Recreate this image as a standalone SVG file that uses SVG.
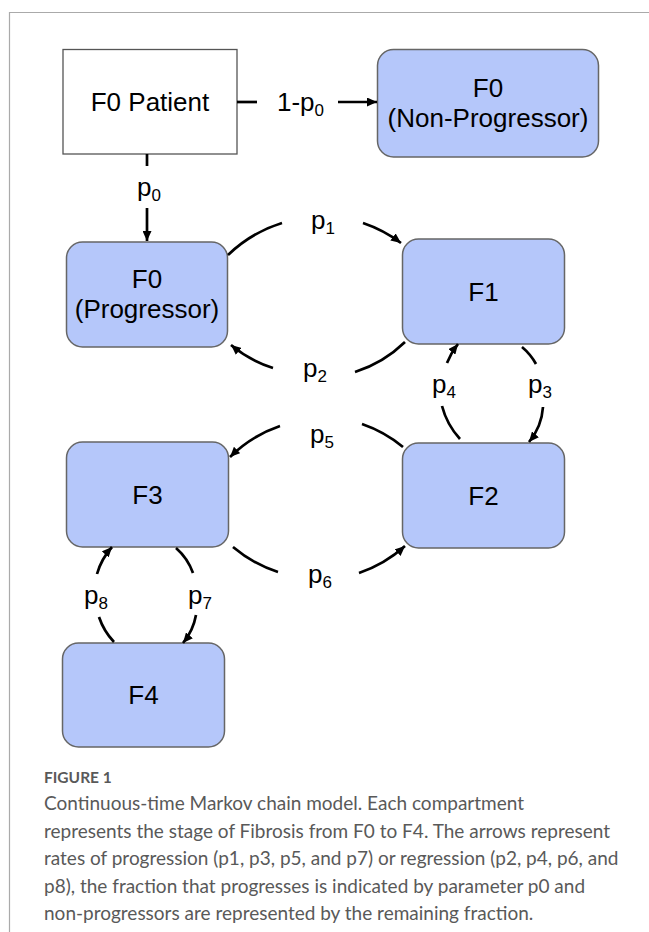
<svg xmlns="http://www.w3.org/2000/svg" width="649" height="932" viewBox="0 0 649 932">
<style>
.frame{fill:none;stroke:#aaaaaa;stroke-width:1.2}
.node{fill:#b5c7fa;stroke:#666666;stroke-width:1.5}
.plain{fill:#ffffff;stroke:#555555;stroke-width:1.3}
.t{font-family:"Liberation Sans",Arial,sans-serif;font-size:26px;fill:#000;text-anchor:middle}
.lbl{font-family:"Liberation Sans",Arial,sans-serif;font-size:26px;fill:#000}
.sub{font-size:17px}
.c{fill:none;stroke:#000;stroke-width:2.7}
.cap{font-family:Lato,"Open Sans",sans-serif;font-size:19px;fill:#595959}
.fig{font-family:Lato,"Open Sans",sans-serif;font-size:15.5px;font-weight:bold;fill:#595959}
</style>
<defs>
<marker id="ah" markerUnits="userSpaceOnUse" markerWidth="11" markerHeight="9" refX="10" refY="4.5" orient="auto">
<path d="M0,0 L10,4.5 L0,9 z" fill="#000"/>
</marker>
</defs>
<path class="frame" d="M9.5,932 V12.5 H649"/>
<g id="f0patient">
<rect class="plain" x="63" y="49.5" width="174" height="104.5"/>
<text class="t" x="150" y="111">F0 Patient</text>
</g>
<g id="f0nonprog">
<rect class="node" x="377.5" y="49.5" width="221" height="107.5" rx="16"/>
<text class="t" x="488" y="97">F0</text>
<text class="t" x="488" y="127">(Non-Progressor)</text>
</g>
<g id="f0prog">
<rect class="node" x="66.5" y="242" width="161" height="105" rx="16"/>
<text class="t" x="147" y="288">F0</text>
<text class="t" x="147" y="318">(Progressor)</text>
</g>
<g id="f1">
<rect class="node" x="402.5" y="239" width="162" height="105" rx="16"/>
<text class="t" x="483.5" y="301">F1</text>
</g>
<g id="f2">
<rect class="node" x="402.5" y="443" width="162" height="105" rx="16"/>
<text class="t" x="483.5" y="505">F2</text>
</g>
<g id="f3">
<rect class="node" x="66.5" y="442" width="162" height="105" rx="16"/>
<text class="t" x="147.5" y="504">F3</text>
</g>
<g id="f4">
<rect class="node" x="62.5" y="643" width="162" height="104" rx="16"/>
<text class="t" x="143.5" y="704">F4</text>
</g>
<g id="connectors">
<path class="c" d="M237,102 H257"/>
<path class="c" d="M338,102 H377" marker-end="url(#ah)"/>
<path class="c" d="M147,154 V166"/>
<path class="c" d="M147,208 V241" marker-end="url(#ah)"/>
<path class="c" d="M228,255 A136,136 0 0 1 282,223"/>
<path class="c" d="M363,223 A136,136 0 0 1 401,243" marker-end="url(#ah)"/>
<path class="c" d="M405,342 A127,127 0 0 1 355,372"/>
<path class="c" d="M273,368 A127,127 0 0 1 231,345" marker-end="url(#ah)"/>
<path class="c" d="M403,447 A131,131 0 0 0 362,424"/>
<path class="c" d="M280,426 A131,131 0 0 0 230,457" marker-end="url(#ah)"/>
<path class="c" d="M233,547 A133,133 0 0 0 278,572"/>
<path class="c" d="M359,573 A133,133 0 0 0 405,546" marker-end="url(#ah)"/>
<path class="c" d="M522,347 A61,61 0 0 1 536,364"/>
<path class="c" d="M543,407 A61,61 0 0 1 529,442" marker-end="url(#ah)"/>
<path class="c" d="M460,439 A78,78 0 0 1 442,406"/>
<path class="c" d="M447,363 A78,78 0 0 1 458,344" marker-end="url(#ah)"/>
<path class="c" d="M176,548 A60,60 0 0 1 193,573"/>
<path class="c" d="M196,615 A60,60 0 0 1 183,643" marker-end="url(#ah)"/>
<path class="c" d="M114,642 A68,68 0 0 1 99,617"/>
<path class="c" d="M97,574 A68,68 0 0 1 112,547" marker-end="url(#ah)"/>
</g>
<g id="labels">
<text class="lbl" x="277" y="111">1-p<tspan class="sub" dy="5">0</tspan></text>
<text class="lbl" x="137" y="196">p<tspan class="sub" dy="5">0</tspan></text>
<text class="lbl" x="311" y="229">p<tspan class="sub" dy="5">1</tspan></text>
<text class="lbl" x="303" y="377">p<tspan class="sub" dy="5">2</tspan></text>
<text class="lbl" x="528" y="393">p<tspan class="sub" dy="5">3</tspan></text>
<text class="lbl" x="432" y="393">p<tspan class="sub" dy="5">4</tspan></text>
<text class="lbl" x="310" y="443">p<tspan class="sub" dy="5">5</tspan></text>
<text class="lbl" x="308" y="583">p<tspan class="sub" dy="5">6</tspan></text>
<text class="lbl" x="188" y="604">p<tspan class="sub" dy="5">7</tspan></text>
<text class="lbl" x="84" y="604">p<tspan class="sub" dy="5">8</tspan></text>
</g>
<g id="caption">
<text class="fig" x="44" y="783">FIGURE 1</text>
<text class="cap" x="44" y="810">Continuous-time Markov chain model. Each compartment</text>
<text class="cap" x="44" y="837.5">represents the stage of Fibrosis from F0 to F4. The arrows represent</text>
<text class="cap" x="44" y="865">rates of progression (p1, p3, p5, and p7) or regression (p2, p4, p6, and</text>
<text class="cap" x="44" y="892.5">p8), the fraction that progresses is indicated by parameter p0 and</text>
<text class="cap" x="44" y="920">non-progressors are represented by the remaining fraction.</text>
</g>
</svg>
